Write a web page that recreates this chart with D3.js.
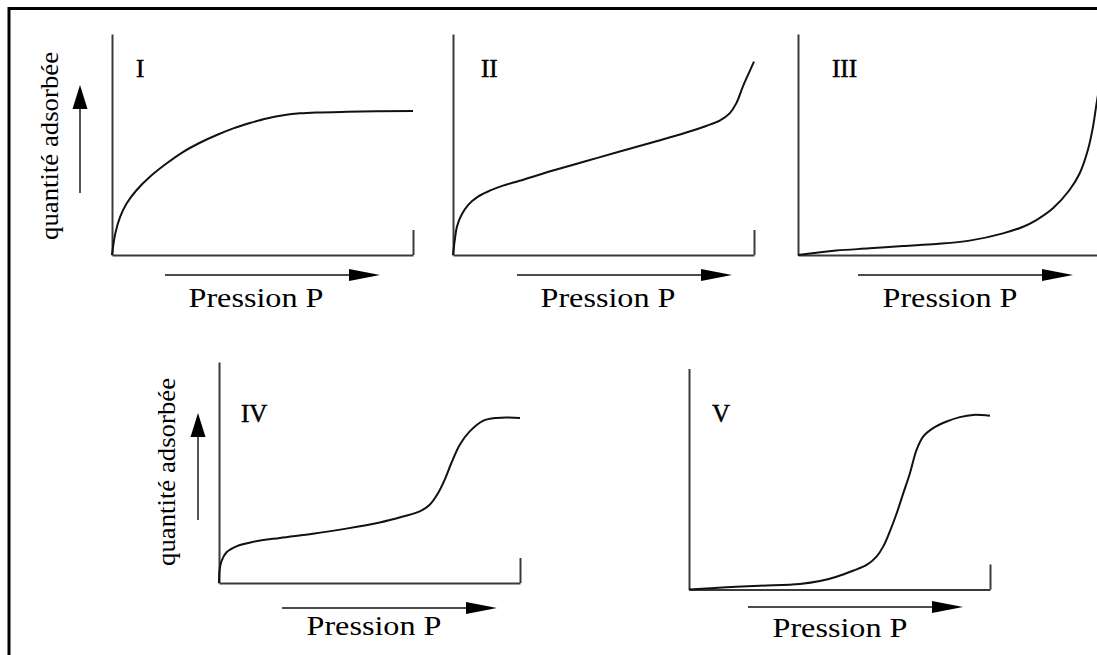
<!DOCTYPE html>
<html>
<head>
<meta charset="utf-8">
<script src="https://cdn.jsdelivr.net/npm/d3@7"></script>
<style>
  body { margin: 0; background: #fff; }
  svg { display: block; }
</style>
</head>
<body>
<div id="visualization"></div>
<script>
// isotherm types I..V (relative pressure / relative amount)
const panelLabels = ["I", "II", "III", "IV", "V"];
const axisLabelX = "Pression P";
const axisLabelY = "quantité adsorbée";

const pressureI = [0, 0.011, 0.027, 0.049, 0.082, 0.126, 0.182, 0.237, 0.292, 0.348, 0.403, 0.458, 0.514, 0.569, 0.625, 0.680, 0.780, 1.0];
const quantityI = [0, 0.098, 0.173, 0.234, 0.294, 0.354, 0.415, 0.467, 0.508, 0.543, 0.573, 0.597, 0.618, 0.632, 0.641, 0.645, 0.648, 0.652];

const pressureII = [0, 0.006, 0.013, 0.028, 0.050, 0.083, 0.122, 0.166, 0.221, 0.332, 0.443, 0.554, 0.664, 0.775, 0.841, 0.886, 0.919, 0.941, 0.963, 0.985, 1.0];
const quantityII = [0, 0.068, 0.128, 0.181, 0.226, 0.264, 0.291, 0.314, 0.336, 0.382, 0.425, 0.468, 0.510, 0.554, 0.584, 0.608, 0.641, 0.686, 0.762, 0.830, 0.875];

const pressureIII = [0, 0.127, 0.238, 0.349, 0.459, 0.570, 0.681, 0.748, 0.792, 0.847, 0.902, 0.936, 0.963, 0.980, 0.992, 1.0];
const quantityIII = [0, 0.020, 0.030, 0.041, 0.050, 0.065, 0.098, 0.128, 0.158, 0.211, 0.294, 0.370, 0.475, 0.580, 0.686, 0.75];

const pressureIV = [0, 0.002, 0.008, 0.025, 0.058, 0.113, 0.202, 0.312, 0.423, 0.534, 0.611, 0.667, 0.700, 0.728, 0.750, 0.772, 0.800, 0.833, 0.877, 0.922, 1.0];
const quantityIV = [0, 0.060, 0.098, 0.139, 0.166, 0.186, 0.204, 0.223, 0.246, 0.274, 0.301, 0.324, 0.354, 0.407, 0.468, 0.543, 0.626, 0.686, 0.734, 0.747, 0.747];

const pressureV = [0, 0.124, 0.235, 0.368, 0.435, 0.490, 0.545, 0.590, 0.623, 0.645, 0.667, 0.690, 0.712, 0.734, 0.756, 0.778, 0.811, 0.856, 0.900, 0.944, 1.0];
const quantityV = [0, 0.010, 0.017, 0.025, 0.038, 0.058, 0.085, 0.111, 0.149, 0.194, 0.262, 0.345, 0.436, 0.526, 0.632, 0.692, 0.730, 0.760, 0.780, 0.790, 0.786];

const pressures = [pressureI, pressureII, pressureIII, pressureIV, pressureV];
const quantities = [quantityI, quantityII, quantityIII, quantityIV, quantityV];

// layout of each small plot (origin of axes, arrow, labels)
const layout = [
  { x0: 112, y0: 255, arrow: [165, 380], arrowY: 275, textX: 256, textY: 307, romanX: 136, romanY: 77, yLabel: { x: 58, y: 146, arrowX: 80, from: 193, to: 85 } },
  { x0: 453, y0: 255, arrow: [517, 732], arrowY: 275, textX: 608, textY: 307, romanX: 481, romanY: 77 },
  { x0: 798, y0: 255, arrow: [858, 1073], arrowY: 275, textX: 950, textY: 307, romanX: 832, romanY: 77 },
  { x0: 219, y0: 583, arrow: [282, 497], arrowY: 608, textX: 374, textY: 635, romanX: 241, romanY: 422, yLabel: { x: 175, y: 472, arrowX: 198, from: 520, to: 413 } },
  { x0: 689, y0: 589.5, arrow: [748, 963], arrowY: 607, textX: 840, textY: 637, romanX: 712, romanY: 422 }
];
const plotW = 301, plotH = 221;
const serif = "'Liberation Serif', 'Times New Roman', serif";

const svg = d3.select("#visualization")
  .append("svg")
  .attr("width", 1097)
  .attr("height", 655);

// outer frame (right and bottom edges fall outside the picture)
svg.append("rect")
  .attr("x", 9)
  .attr("y", 8.5)
  .attr("width", 1200)
  .attr("height", 700)
  .attr("fill", "none")
  .attr("stroke", "#000")
  .attr("stroke-width", 3);

panelLabels.forEach((label, i) => {
  const L = layout[i];
  const x = d3.scaleLinear().domain([0, 1]).range([L.x0, L.x0 + plotW]);
  const y = d3.scaleLinear().domain([0, 1]).range([L.y0, L.y0 - plotH]);
  const g = svg.append("g");

  // x axis with the single closing tick at the right end
  g.append("g")
    .attr("transform", `translate(0,${L.y0})`)
    .call(d3.axisBottom(x).tickValues([1]).tickSize(-25).tickSizeOuter(0).tickFormat(""))
    .call(a => a.selectAll("path, line").attr("stroke", "#3a3a3a").attr("stroke-width", 2));

  g.append("g")
    .attr("transform", `translate(${L.x0},0)`)
    .call(d3.axisLeft(y).tickValues([]).tickSizeOuter(0))
    .call(a => a.selectAll("path").attr("stroke", "#3a3a3a").attr("stroke-width", 2));

  const pts = pressures[i].map((p, k) => [p, quantities[i][k]]);
  g.append("path")
    .datum(pts)
    .attr("fill", "none")
    .attr("stroke", "#111")
    .attr("stroke-width", 2)
    .attr("d", d3.line().x(d => x(d[0])).y(d => y(d[1])).curve(d3.curveCatmullRom.alpha(0.5)));

  g.append("text")
    .attr("x", L.romanX)
    .attr("y", L.romanY)
    .attr("font-family", serif)
    .attr("font-size", 25)
    .attr("stroke", "#000")
    .attr("stroke-width", 0.5)
    .attr("fill", "#000")
    .text(label);

  // pressure arrow
  const [a1, a2] = L.arrow;
  g.append("line")
    .attr("x1", a1).attr("x2", a2 - 20)
    .attr("y1", L.arrowY).attr("y2", L.arrowY)
    .attr("stroke", "#111").attr("stroke-width", 1.6);
  g.append("path")
    .attr("d", `M${a2},${L.arrowY}L${a2 - 31},${L.arrowY - 6}L${a2 - 31},${L.arrowY + 6}Z`)
    .attr("fill", "#000");

  g.append("text")
    .attr("x", L.textX)
    .attr("y", L.textY)
    .attr("text-anchor", "middle")
    .attr("font-family", serif)
    .attr("font-size", 27)
    .attr("textLength", 135)
    .attr("lengthAdjust", "spacingAndGlyphs")
    .attr("fill", "#000")
    .text(axisLabelX);

  if (L.yLabel) {
    const Y = L.yLabel;
    g.append("text")
      .attr("transform", `translate(${Y.x},${Y.y}) rotate(-90)`)
      .attr("text-anchor", "middle")
      .attr("font-family", serif)
      .attr("font-size", 25)
      .attr("textLength", 188)
      .attr("lengthAdjust", "spacingAndGlyphs")
      .attr("fill", "#000")
      .text(axisLabelY);
    g.append("line")
      .attr("x1", Y.arrowX).attr("x2", Y.arrowX)
      .attr("y1", Y.from).attr("y2", Y.to + 15)
      .attr("stroke", "#555").attr("stroke-width", 2);
    g.append("path")
      .attr("d", `M${Y.arrowX},${Y.to}L${Y.arrowX - 7.5},${Y.to + 24}L${Y.arrowX + 7.5},${Y.to + 24}Z`)
      .attr("fill", "#000");
  }
});
</script>
</body>
</html>
